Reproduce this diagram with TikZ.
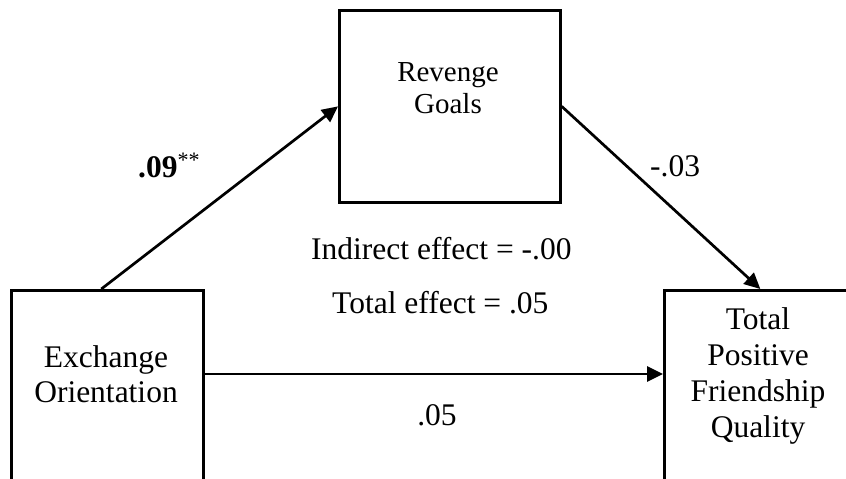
\documentclass[tikz,border=0pt]{standalone}
\usepackage{fontspec}
\setmainfont{Liberation Serif}
\usetikzlibrary{arrows.meta,calc}
\begin{document}
\begin{tikzpicture}[x=1pt,y=-1pt,
  box/.style={draw, line width=2.7pt, anchor=north west, inner sep=0pt},
  lbl/.style={font=\fontsize{31.5}{36}\selectfont, inner sep=0pt, anchor=base},
  smalllbl/.style={font=\fontsize{29}{32}\selectfont, inner sep=0pt, anchor=base},
  link/.style={line width=2.7pt, -{Triangle[length=16pt,width=15pt]}}]
  \useasboundingbox (0,0) rectangle (846,479);
  \fill[white] (0,0) rectangle (846,479);
  \clip (0,0) rectangle (846,479);

  % variable boxes (lower two run past the bottom edge)
  \node[box, minimum width=221pt, minimum height=192pt] (rv) at (338,9) {};
  \node[box, minimum width=192pt, minimum height=240pt] (ex) at (10,289) {};
  \node[box, minimum width=192pt, minimum height=240pt] (tot) at (663,289) {};

  % box captions (base = baseline of the last line)
  \node[smalllbl, align=center] (rvtext) at (448,113) {Revenge\\Goals};
  \node[lbl, align=center, font=\fontsize{31.5}{35}\selectfont] (extext) at (106,402) {Exchange\\Orientation};
  \node[lbl, align=center] (tottext) at (758,437) {Total\\Positive\\Friendship\\Quality};

  % paths
  \draw[link] ($(ex.north west)!0.469!(ex.north east)$) -- (rv.west);
  \draw[link] (rv.east) -- (tot.north);
  \draw[link] ($(ex.north east)+(0,85)$) -- ($(tot.north west)+(0,85)$);

  % coefficients
  \node[lbl, anchor=base west] (a) at (138,177) {\textbf{.09}\textsuperscript{**}};
  \node[lbl, anchor=base west] (b) at (650,176) {-.03};
  \node[lbl] (c) at (437,425) {.05};
  \node[lbl, anchor=base west] (ind) at (311,259) {Indirect effect = -.00};
  \node[lbl, anchor=base west] (te) at (332,313) {Total effect = .05};
\end{tikzpicture}
\end{document}
